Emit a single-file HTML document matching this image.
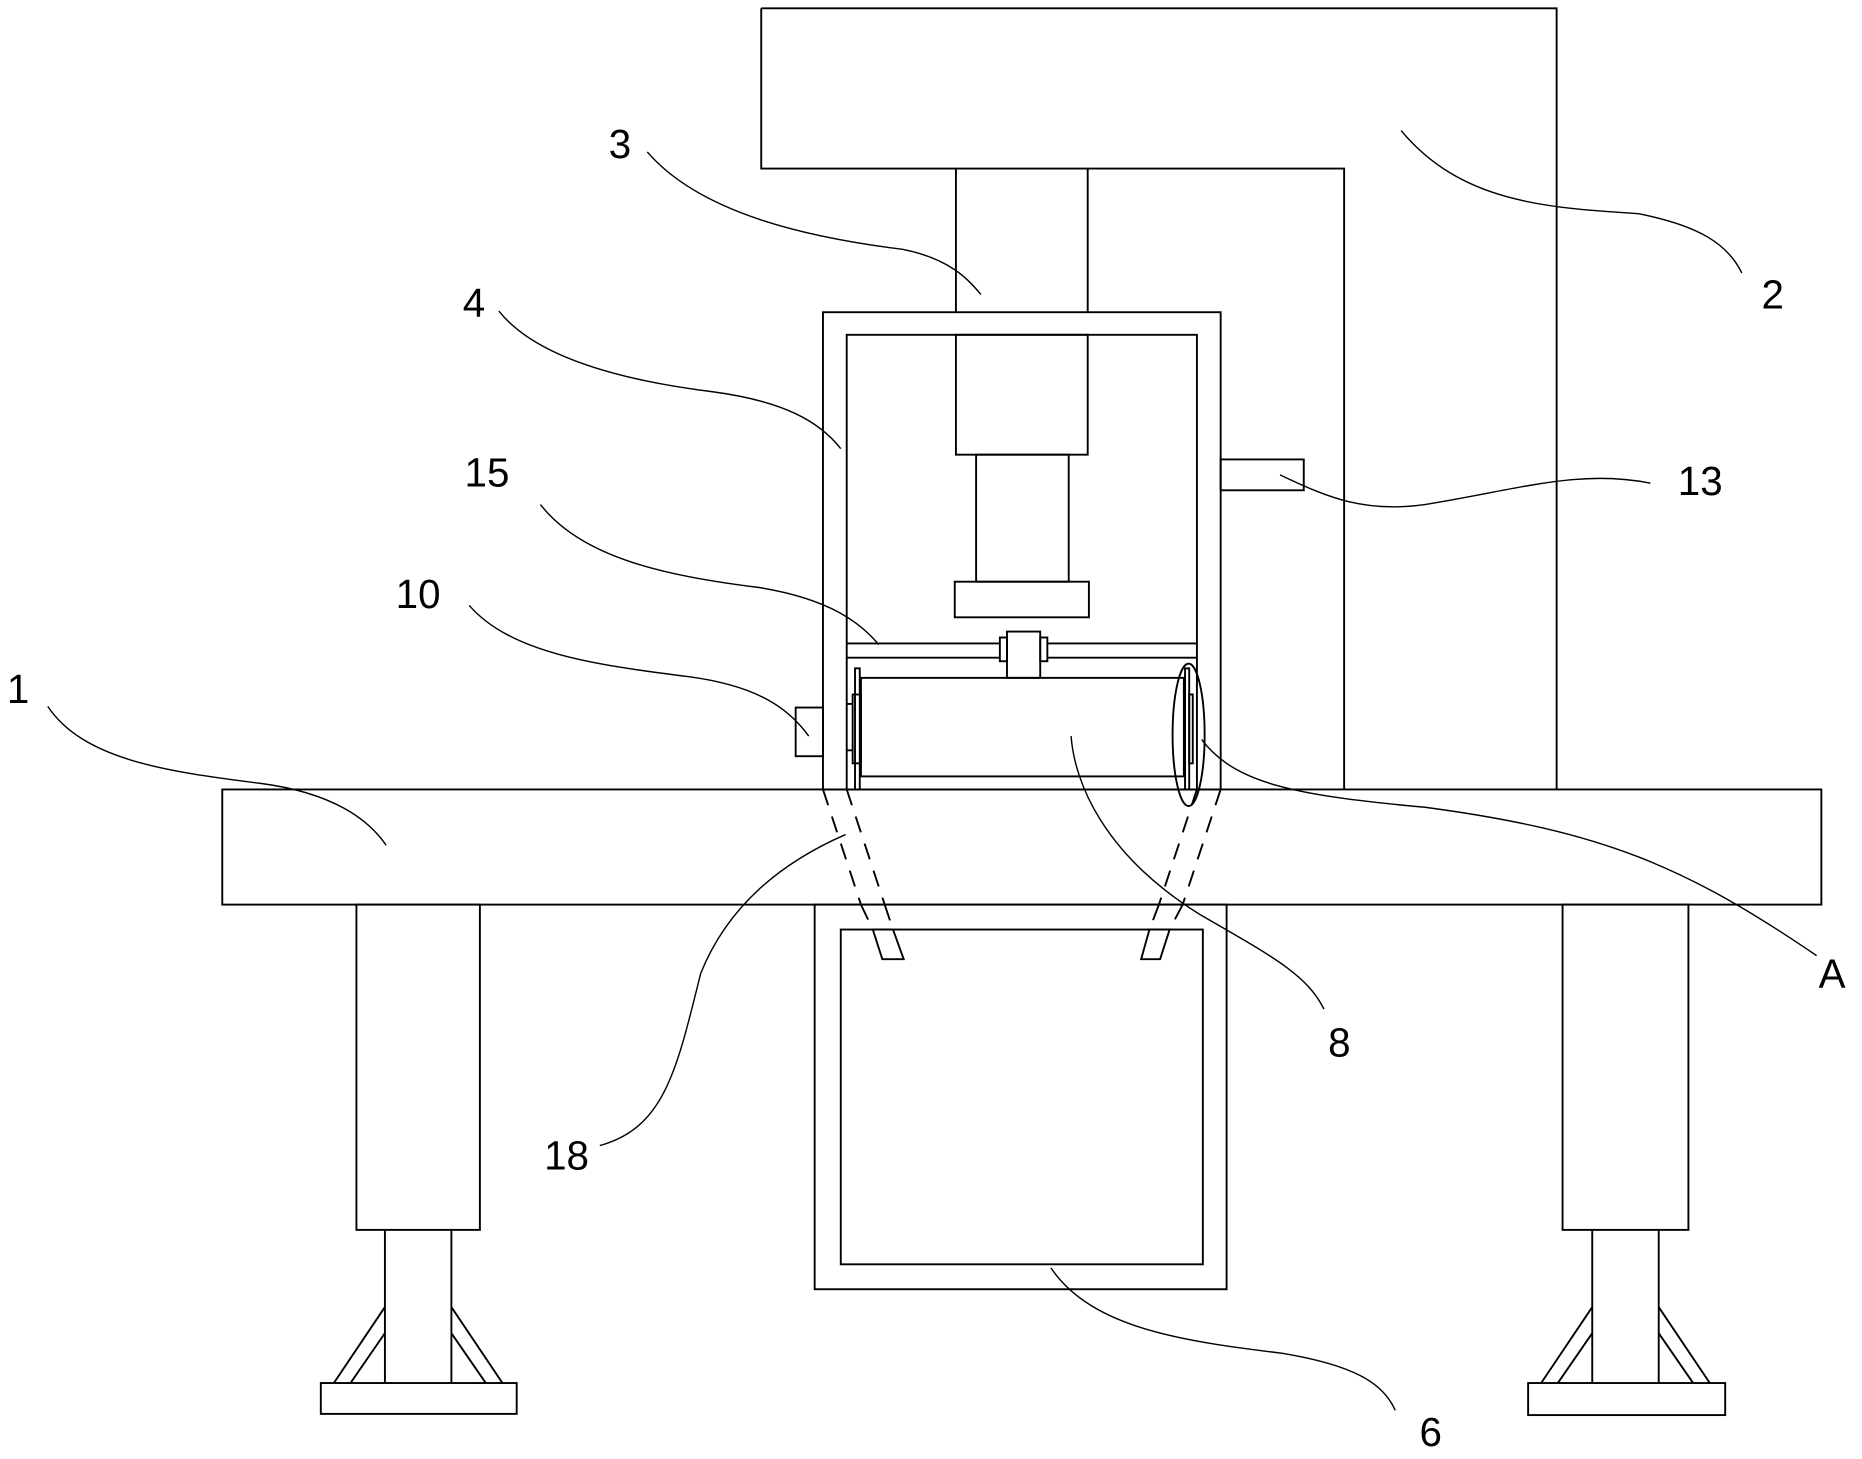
<!DOCTYPE html>
<html><head><meta charset="utf-8"><style>html,body{margin:0;padding:0;background:#fff}svg{display:block}</style></head><body>
<svg width="1862" height="1459" viewBox="0 0 1568 1229" xmlns="http://www.w3.org/2000/svg">
<g fill="none" stroke="#000" stroke-width="1.6">
<path d="M641,7 H1311 V665 M1132,665 V142 H641 V7"/>
<path d="M805,142 V263 M916,142 V263"/>
<rect x="693" y="263" width="335" height="402"/>
<path d="M713,665 V282 H1008 V665"/>
<rect x="805" y="282" width="111" height="101"/>
<rect x="822" y="383" width="78" height="107"/>
<rect x="804" y="490" width="113" height="30"/>
<path d="M713,542 H842 M713,554 H842 M882,542 H1008 M882,554 H1008"/>
<rect x="842" y="537" width="6" height="20"/>
<rect x="876" y="537" width="6" height="20"/>
<rect x="848" y="532" width="28" height="39"/>
<rect x="725" y="571" width="272" height="83"/>
<rect x="720" y="563" width="4" height="102"/>
<rect x="718" y="585" width="7" height="58"/>
<path d="M713,593 H718 M713,632 H718"/>
<rect x="670" y="596" width="23" height="41"/>
<rect x="998" y="563" width="3.5" height="102"/>
<rect x="1001.5" y="585" width="3" height="58"/>
<ellipse cx="1001" cy="619" rx="13.5" ry="60"/>
<rect x="1028" y="387" width="70" height="26"/>
<rect x="187" y="665" width="1347" height="97"/>
<g stroke-dasharray="14,10">
<path d="M693,665 L725,762 M713,665 L745,762 M725,762 L735,783 M745,762 L752,783"/>
<path d="M1028,665 L996,762 M1008,665 L976,762 M996,762 L985,783 M976,762 L968,783"/>
</g>
<polygon points="735,783 752,783 761,808 743,808"/>
<polygon points="968,783 985,783 977,808 961,808"/>
<rect x="686" y="762" width="347" height="324"/>
<rect x="708" y="783" width="305" height="282"/>
<rect x="300" y="762" width="104" height="274"/>
<path d="M324,1036 V1165 M380,1036 V1165"/>
<rect x="270" y="1165" width="165" height="26"/>
<path d="M324,1101 L281,1165 M324,1123 L295,1165 M380,1101 L423,1165 M380,1123 L409,1165"/>
<rect x="1316" y="762" width="106" height="274"/>
<path d="M1341,1036 V1165 M1397,1036 V1165"/>
<rect x="1287" y="1165" width="166" height="27"/>
<path d="M1341,1101 L1298,1165 M1341,1123 L1312,1165 M1397,1101 L1440,1165 M1397,1123 L1426,1165"/>
<g stroke-width="1.2">
<path d="M545,128 C590,180 680,200 760,210 C800,218 815,235 826,248"/>
<path d="M1180,110 C1230,170 1300,175 1380,180 C1430,190 1455,205 1467,230"/>
<path d="M420,262 C450,300 520,320 600,330 C660,338 690,355 708,378"/>
<path d="M455,425 C490,470 560,485 640,495 C700,505 725,525 740,543"/>
<path d="M395,510 C430,550 500,560 580,570 C640,578 665,598 681,620"/>
<path d="M1078,400 C1120,420 1150,432 1200,425 C1280,412 1330,395 1390,407"/>
<path d="M40,595 C70,640 140,650 220,660 C280,668 310,690 325,712"/>
<path d="M1012,623 C1040,660 1090,670 1200,680 C1350,700 1420,730 1530,805"/>
<path d="M902,620 C905,660 930,720 1010,770 C1070,805 1100,820 1115,850"/>
<path d="M505,965 C560,950 570,900 590,820 C610,770 650,730 712,703"/>
<path d="M885,1068 C920,1120 1000,1130 1080,1140 C1140,1150 1165,1165 1175,1188"/>
</g>
</g>
<g font-family="Liberation Sans, sans-serif" font-size="34" fill="#000" text-anchor="middle">
<text x="522" y="133">3</text>
<text x="1493" y="260">2</text>
<text x="399" y="267">4</text>
<text x="410" y="410">15</text>
<text x="352" y="512">10</text>
<text x="1432" y="417">13</text>
<text x="15" y="592">1</text>
<text x="1543" y="832">A</text>
<text x="1128" y="890">8</text>
<text x="477" y="985">18</text>
<text x="1205" y="1218">6</text>
</g>
</svg>
</body></html>
